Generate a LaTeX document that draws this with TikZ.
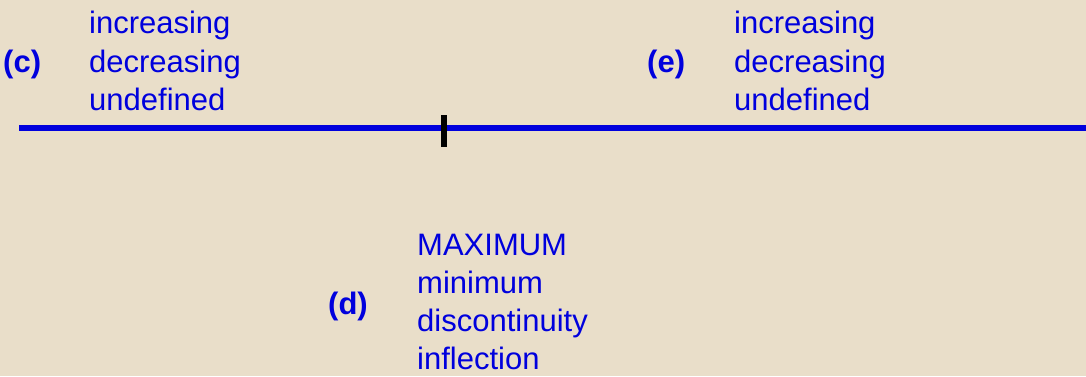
\documentclass[tikz,border=0pt]{standalone}
\usepackage{fontspec}
\setmainfont{Liberation Sans}
\definecolor{bg}{RGB}{233,222,201}
\definecolor{tblue}{RGB}{0,0,221}
\begin{document}
\begin{tikzpicture}[x=1pt,y=-1pt,
  lbl/.style={anchor=base west,inner sep=0pt,text=tblue,font=\fontsize{31}{38}\selectfont},
  tag/.style={lbl,font=\fontsize{31}{38}\selectfont\bfseries},
  axis/.style={draw=tblue,line width=6pt},
  tickmark/.style={draw=black,line width=6pt}]
\fill[bg] (0,0) rectangle (1086,376);
\useasboundingbox (0,0) rectangle (1086,376);
\coordinate (L) at (19,128);
\coordinate (R) at (1086,128);
\coordinate (T1) at (444,115);
\coordinate (T2) at (444,147);
\draw[axis] (L) -- (R);
\draw[tickmark] (T1) -- (T2);
% (c)
\node[tag] (c) at (3,72) {(c)};
\node[lbl] (c1) at (89,33) {increasing};
\node[lbl] (c2) at (89,72) {decreasing};
\node[lbl] (c3) at (89,110) {undefined};
% (e)
\node[tag] (e) at (647,72) {(e)};
\node[lbl] (e1) at (734,33) {increasing};
\node[lbl] (e2) at (734,72) {decreasing};
\node[lbl] (e3) at (734,110) {undefined};
% (d)
\node[tag] (d) at (328,314) {(d)};
\node[lbl] (d1) at (417,255) {MAXIMUM};
\node[lbl] (d2) at (417,293) {minimum};
\node[lbl] (d3) at (417,331) {discontinuity};
\node[lbl] (d4) at (417,369) {inflection};
\end{tikzpicture}
\end{document}
